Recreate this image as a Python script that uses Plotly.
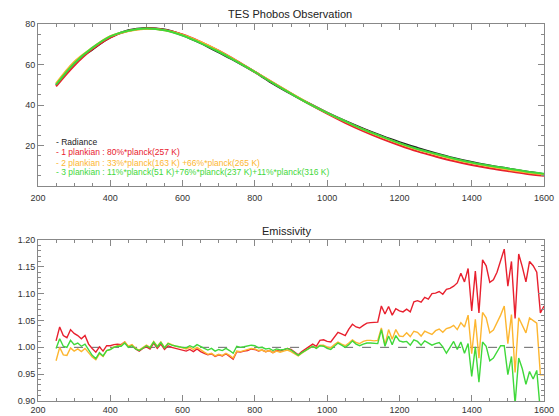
import plotly.graph_objects as go

# ---------------- data ----------------
# top panel: radiance and fits (sampled every 50 cm-1)
wn_fit = [250, 300, 350, 400, 450, 500, 550, 600, 650, 700, 750, 800, 850, 900,
          950, 1000, 1050, 1100, 1150, 1200, 1250, 1300, 1350, 1400, 1450, 1500, 1550, 1600]
radiance = [49.9, 60.9, 67.4, 73.4, 76.9, 78.0, 77.2, 74.5, 70.6, 66.0, 61.4, 56.3, 50.6, 45.5,
            40.7, 36.2, 32.1, 28.3, 24.8, 21.6, 18.8, 16.2, 13.8, 11.8, 10.1, 8.6, 7.1, 5.8]
fit1 = [49.2, 59.4, 67.5, 73.3, 76.6, 77.8, 77.1, 74.8, 71.2, 66.8, 61.8, 56.4, 51.0, 45.7,
        40.5, 35.7, 31.2, 27.1, 23.4, 20.1, 17.1, 14.6, 12.3, 10.4, 8.8, 7.4, 6.1, 5.1]
fit2 = [50.7, 61.3, 68.2, 74.0, 76.5, 77.6, 76.9, 74.6, 71.1, 66.7, 61.7, 56.4, 51.0, 45.8,
        40.7, 36.1, 31.9, 27.9, 24.3, 21.0, 18.0, 15.6, 13.2, 11.3, 9.6, 8.1, 6.8, 5.7]
fit3 = [50.0, 60.5, 68.2, 73.9, 76.7, 77.8, 76.9, 74.3, 70.6, 66.3, 61.4, 56.3, 50.8, 45.6,
        40.6, 36.1, 32.0, 28.0, 24.5, 21.2, 18.3, 15.9, 13.6, 11.6, 10.0, 8.6, 7.2, 6.1]
top_ticks = [20, 40, 60, 80]

# bottom panel: emissivity (sampled every 10 cm-1, 250..1600)
wn = list(range(250, 1601, 10))
emis1 = [1.012, 1.038, 1.022, 1.018, 1.033, 1.026, 1.022, 1.016, 1.022, 1.006,
         0.998, 0.991, 1.001, 0.993, 1.003, 1.003, 1.005, 1.006, 1.005, 1.010,
         1.001, 1.004, 0.997, 0.993, 0.998, 1.001, 0.997, 1.008, 0.998, 1.006,
         0.996, 1.003, 1.000, 0.998, 0.996, 0.995, 0.993, 0.996, 0.992, 0.997,
         0.992, 0.989, 0.986, 0.988, 0.983, 0.986, 0.984, 0.988, 0.983, 0.978,
         0.992, 0.991, 0.993, 0.994, 0.997, 0.996, 0.993, 0.995, 0.992, 0.994,
         0.990, 0.994, 0.993, 0.995, 0.998, 0.996, 0.991, 0.986, 0.992, 0.997,
         1.002, 1.006, 1.002, 1.013, 1.014, 1.011, 1.010, 1.020, 1.028, 1.025,
         1.022, 1.034, 1.043, 1.038, 1.036, 1.041, 1.045, 1.046, 1.046, 1.047,
         1.077, 1.062, 1.076, 1.060, 1.072, 1.068, 1.066, 1.071, 1.066, 1.085,
         1.087, 1.084, 1.093, 1.090, 1.100, 1.101, 1.104, 1.099, 1.108, 1.110,
         1.114, 1.120, 1.138, 1.122, 1.147, 1.068, 1.142, 1.064, 1.163, 1.152,
         1.121, 1.126, 1.140, 1.162, 1.183, 1.114, 1.160, 1.054, 1.174, 1.150,
         1.122, 1.160, 1.152, 1.140, 1.064, 1.077]
emis2 = [0.975, 1.000, 0.986, 0.985, 0.999, 0.993, 0.997, 0.992, 0.998, 0.990,
         0.982, 0.977, 0.988, 0.983, 0.994, 0.996, 1.001, 1.003, 1.004, 1.010,
         1.002, 1.005, 0.998, 0.995, 1.000, 1.004, 1.000, 1.011, 1.002, 1.010,
         1.000, 1.008, 1.005, 1.002, 1.001, 0.999, 0.997, 1.000, 0.996, 1.000,
         0.995, 0.991, 0.987, 0.989, 0.984, 0.987, 0.985, 0.989, 0.985, 0.980,
         0.993, 0.992, 0.994, 0.996, 0.998, 0.997, 0.994, 0.995, 0.992, 0.994,
         0.990, 0.993, 0.991, 0.993, 0.995, 0.992, 0.988, 0.984, 0.989, 0.994,
         0.998, 1.002, 0.999, 1.004, 1.004, 1.001, 0.999, 1.005, 1.010, 1.006,
         1.003, 1.008, 1.014, 1.009, 1.007, 1.011, 1.013, 1.013, 1.012, 1.013,
         1.036, 1.004, 1.033, 1.015, 1.033, 1.021, 1.020, 1.027, 1.020, 1.030,
         1.028, 1.021, 1.030, 1.027, 1.024, 1.031, 1.034, 1.028, 1.035, 1.037,
         1.041, 1.033, 1.046, 1.038, 1.060, 0.988, 1.052, 0.980, 1.065, 1.055,
         1.027, 1.032, 1.045, 1.060, 1.077, 1.007, 1.061, 0.953, 1.055, 1.040,
         1.027, 1.055, 1.050, 1.045, 0.949, 0.949]
emis3 = [0.998, 1.016, 1.002, 1.000, 1.013, 1.005, 1.008, 1.002, 1.006, 0.995,
         0.985, 0.979, 0.990, 0.984, 0.994, 0.996, 1.000, 1.002, 1.002, 1.008,
         1.000, 1.003, 0.997, 0.994, 0.999, 1.003, 0.999, 1.010, 1.001, 1.009,
         0.999, 1.007, 1.004, 1.002, 1.001, 1.000, 0.999, 1.003, 1.000, 1.005,
         1.001, 0.998, 0.995, 0.998, 0.993, 0.996, 0.994, 0.998, 0.994, 0.989,
         1.002, 1.000, 1.001, 1.002, 1.004, 1.003, 0.999, 1.000, 0.997, 0.998,
         0.994, 0.997, 0.995, 0.996, 0.998, 0.995, 0.990, 0.985, 0.990, 0.994,
         0.998, 1.002, 0.998, 1.003, 1.002, 0.998, 0.996, 1.002, 1.008, 1.004,
         1.000, 1.005, 1.012, 1.006, 1.003, 1.006, 1.008, 1.008, 1.007, 1.007,
         1.033, 1.002, 1.021, 1.005, 1.022, 1.012, 1.010, 1.011, 1.004, 1.014,
         1.011, 1.004, 1.012, 1.008, 1.004, 1.007, 1.009, 1.001, 0.989, 1.000,
         1.011, 0.996, 1.010, 0.989, 1.007, 0.946, 1.001, 0.935, 1.010, 1.002,
         0.975, 0.980, 0.993, 1.003, 1.003, 0.949, 0.983, 0.895, 0.980, 0.960,
         0.931, 0.955, 0.941, 0.957, 0.880, 0.880]
unity_x = [250, 1600]
unity_y = [1.0, 1.0]

legend_lines = [
    "- Radiance",
    "- 1 plankian : 80%*planck(257 K)",
    "- 2 plankian : 33%*planck(163 K) +66%*planck(265 K)",
    "- 3 plankian : 11%*planck(51 K)+76%*planck(237 K)+11%*planck(316 K)",
]
legend_y = [21.5, 16.6, 11.6, 6.7]

C_BLACK = "#222222"
C_RED = "#e8202e"
C_ORANGE = "#fdb630"
C_GREEN = "#3fd83a"
FONT = "Liberation Sans"

W, H = 559, 416
ML, MR, MT, MB = 38, 15, 24, 15
PH = H - MT - MB
PW = W - ML - MR

fig = go.Figure()
# top panel
fig.add_trace(go.Scatter(x=wn_fit, y=radiance, mode="lines", line=dict(color=C_BLACK, width=2.2, shape="spline"), xaxis="x", yaxis="y"))
fig.add_trace(go.Scatter(x=wn_fit, y=fit1, mode="lines", line=dict(color=C_RED, width=2, shape="spline"), xaxis="x", yaxis="y"))
fig.add_trace(go.Scatter(x=wn_fit, y=fit2, mode="lines", line=dict(color=C_ORANGE, width=2, shape="spline"), xaxis="x", yaxis="y"))
fig.add_trace(go.Scatter(x=wn_fit, y=fit3, mode="lines", line=dict(color=C_GREEN, width=2, shape="spline"), xaxis="x", yaxis="y"))
# bottom panel
fig.add_trace(go.Scatter(x=unity_x, y=unity_y, mode="lines", line=dict(color="#666666", width=1, dash="dash"), xaxis="x2", yaxis="y2"))
fig.add_trace(go.Scatter(x=wn, y=emis1, mode="lines", line=dict(color=C_RED, width=1.4), xaxis="x2", yaxis="y2"))
fig.add_trace(go.Scatter(x=wn, y=emis2, mode="lines", line=dict(color=C_ORANGE, width=1.4), xaxis="x2", yaxis="y2"))
fig.add_trace(go.Scatter(x=wn, y=emis3, mode="lines", line=dict(color=C_GREEN, width=1.4), xaxis="x2", yaxis="y2"))

axis_common = dict(
    showline=True, linecolor="#888888", linewidth=1, mirror="allticks",
    ticks="inside", tickcolor="#888888", ticklen=6, showgrid=False, zeroline=False,
    automargin=False,
    tickfont=dict(family=FONT, size=9, color="#333333"),
)
minor_x = dict(dtick=50, ticks="inside", ticklen=3, tickcolor="#888888")

top_dom = [(H - MB - 186) / PH, 1.0]
bot_dom = [(H - MB - 401) / PH, (H - MB - 240) / PH]

fig.update_layout(
    width=W, height=H,
    margin=dict(l=ML, r=MR, t=MT, b=MB, autoexpand=False),
    paper_bgcolor="white", plot_bgcolor="white",
    showlegend=False,
    xaxis=dict(domain=[0, 1], anchor="y", range=[200, 1600], dtick=200, ticklabelstandoff=3,
               minor=minor_x, **axis_common),
    yaxis=dict(domain=top_dom, anchor="x", range=[0, 80], tickvals=top_ticks,
               minor=dict(dtick=5, ticks="inside", ticklen=3, tickcolor="#888888"), **axis_common),
    xaxis2=dict(domain=[0, 1], anchor="y2", range=[200, 1600], dtick=200, ticklabelstandoff=0,
                minor=minor_x, **axis_common),
    yaxis2=dict(domain=bot_dom, anchor="x2", range=[0.9, 1.2], dtick=0.05, tickformat=".2f",
                minor=dict(dtick=0.01, ticks="inside", ticklen=3, tickcolor="#888888"), **axis_common),
)

annotations = [
    dict(text="TES Phobos Observation", x=(290 - ML) / PW, y=(H - MB - 14) / PH,
         xref="paper", yref="paper", showarrow=False, xanchor="center", yanchor="middle",
         font=dict(family=FONT, size=11, color="#222222")),
    dict(text="Emissivity", x=(286 - ML) / PW, y=(H - MB - 231) / PH,
         xref="paper", yref="paper", showarrow=False, xanchor="center", yanchor="middle",
         font=dict(family=FONT, size=11, color="#222222")),
]

colors = [C_BLACK, C_RED, C_ORANGE, C_GREEN]
for txt, yv, c in zip(legend_lines, legend_y, colors):
    annotations.append(dict(text=txt, x=245, y=yv, xref="x", yref="y", showarrow=False,
                            xanchor="left", yanchor="middle",
                            font=dict(family=FONT, size=8.5, color=c)))
fig.update_layout(annotations=annotations)

fig.write_html("out.html")
